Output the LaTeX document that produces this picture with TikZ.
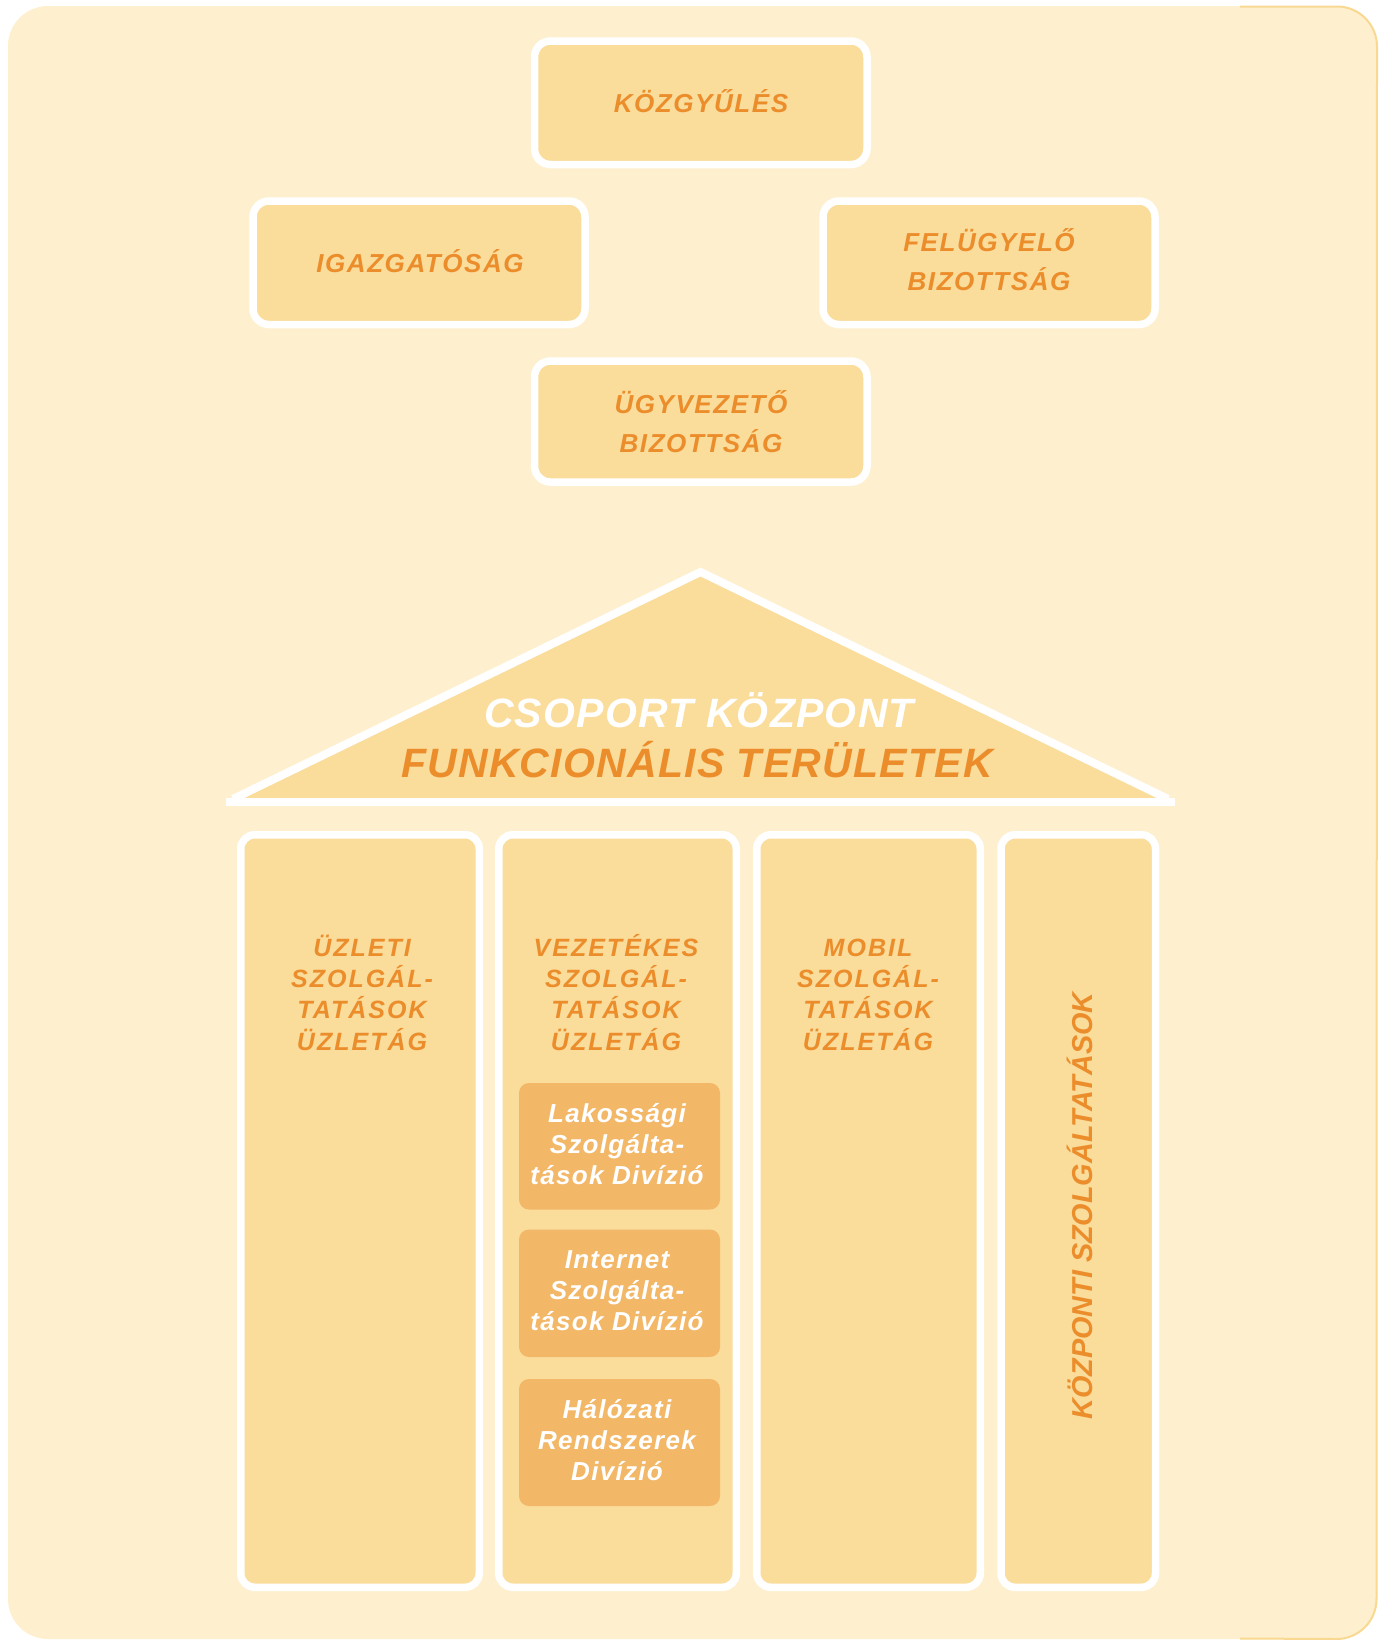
\documentclass[tikz,border=0pt]{standalone}
\usepackage{fontspec}
\setmainfont{Liberation Sans}
\newfontfamily\tagfont[LetterSpace=6]{Liberation Sans}
\newfontfamily\rooffont[LetterSpace=3]{Liberation Sans}
\newfontfamily\pillarfont[LetterSpace=8]{Liberation Sans}
\newfontfamily\divfont[LetterSpace=5]{Liberation Sans}
\definecolor{bgcream}{RGB}{254,240,206}
\definecolor{bgedge}{RGB}{249,216,146}
\definecolor{boxfill}{RGB}{250,220,155}
\definecolor{divfill}{RGB}{243,183,104}
\definecolor{lblorange}{RGB}{236,141,44}
\tikzset{
	wallbox/.style={fill=boxfill, draw=white, line width=3.75pt, rounded corners=8pt},
	roofline/.style={draw=white, line width=4pt, line join=miter},
	divbox/.style={fill=divfill, rounded corners=5pt},
	lbl/.style={anchor=base, align=center, inner sep=0pt, text=lblorange},
	tag/.style={lbl, font=\tagfont\bfseries\itshape\fontsize{13}{19.5}\selectfont},
	roof/.style={lbl, font=\rooffont\bfseries\itshape\fontsize{20.5}{25}\selectfont},
	pillar/.style={lbl, font=\pillarfont\bfseries\itshape\fontsize{12.5}{15.65}\selectfont},
	divlbl/.style={lbl, text=white, font=\divfont\bfseries\itshape\fontsize{13}{15.5}\selectfont},
}

\begin{document}
\begin{tikzpicture}[x=0.5pt, y=-0.5pt]
	%%%%% START %%%%%
	\useasboundingbox (0,0) rectangle (1385,1640);
	
	\fill[bgcream, rounded corners=20pt] (8,6) rectangle (1377,1639);
	\draw[line width=1pt, bgedge] (1240,6.5) -- (1337,6.5) arc[start angle=90, end angle=0, radius=20pt] -- (1376.5,1599) arc[start angle=0, end angle=-90, radius=20pt] -- (1240,1638.5);
	
	% boards
	\draw[wallbox] (534.5,41) rectangle (867,164.5);
	\node[tag] (kozgyules) at (701,112) {KÖZGYŰLÉS};
	
	\draw[wallbox] (253,201) rectangle (585,324.5);
	\node[tag] (igazgatosag) at (420,272) {IGAZGATÓSÁG};
	
	\draw[wallbox] (823,201) rectangle (1155,324.5);
	\node[tag] (felugyelo) at (989,290) {FELÜGYELŐ\\BIZOTTSÁG};
	
	\draw[wallbox] (534.5,361) rectangle (867,482);
	\node[tag] (ugyvezeto) at (701,452) {ÜGYVEZETŐ\\BIZOTTSÁG};
	
	% roof
	\fill[boxfill] (229,802) -- (700.5,572) -- (1172,802) -- cycle;
	\draw[roofline] (233,799) -- (700.5,572) -- (1168,799);
	\draw[roofline] (226,802) -- (1175,802);
	\node[roof, text=white] (csoport) at (699,727) {CSOPORT KÖZPONT};
	\node[roof] (funkcio) at (697,777) {FUNKCIONÁLIS TERÜLETEK};
	
	% pillars
	\draw[wallbox, rounded corners=7pt] (240.75,834.75) rectangle (479.25,1587.25);
	\node[pillar] (uzleti) at (362,1050) {ÜZLETI\\SZOLGÁL-\\TATÁSOK\\ÜZLETÁG};
	
	\draw[wallbox, rounded corners=7pt] (498.75,834.75) rectangle (736.25,1587.25);
	\node[pillar] (vezetekes) at (616,1050) {VEZETÉKES\\SZOLGÁL-\\TATÁSOK\\ÜZLETÁG};
	
	\draw[wallbox, rounded corners=7pt] (756.75,834.75) rectangle (980.25,1587.25);
	\node[pillar] (mobil) at (868,1050) {MOBIL\\SZOLGÁL-\\TATÁSOK\\ÜZLETÁG};
	
	\draw[wallbox, rounded corners=7pt] (1001,834.75) rectangle (1155.5,1587.25);
	\node[lbl, rotate=90, font=\bfseries\itshape\fontsize{14.4}{16}\selectfont] (kozponti) at (1092,1206) {KÖZPONTI SZOLGÁLTATÁSOK};
	
	% divisions
	\fill[divbox] (519,1083) rectangle (720,1209.5);
	\node[divlbl] (lakossagi) at (617,1184) {Lakossági\\Szolgálta-\\tások Divízió};
	
	\fill[divbox] (519,1229.5) rectangle (720,1357);
	\node[divlbl] (internet) at (617,1330) {Internet\\Szolgálta-\\tások Divízió};
	
	\fill[divbox] (519,1379) rectangle (720,1506);
	\node[divlbl] (halozati) at (617,1480) {Hálózati\\Rendszerek\\Divízió};
	
	%%%%% END %%%%%
\end{tikzpicture}
\end{document}
